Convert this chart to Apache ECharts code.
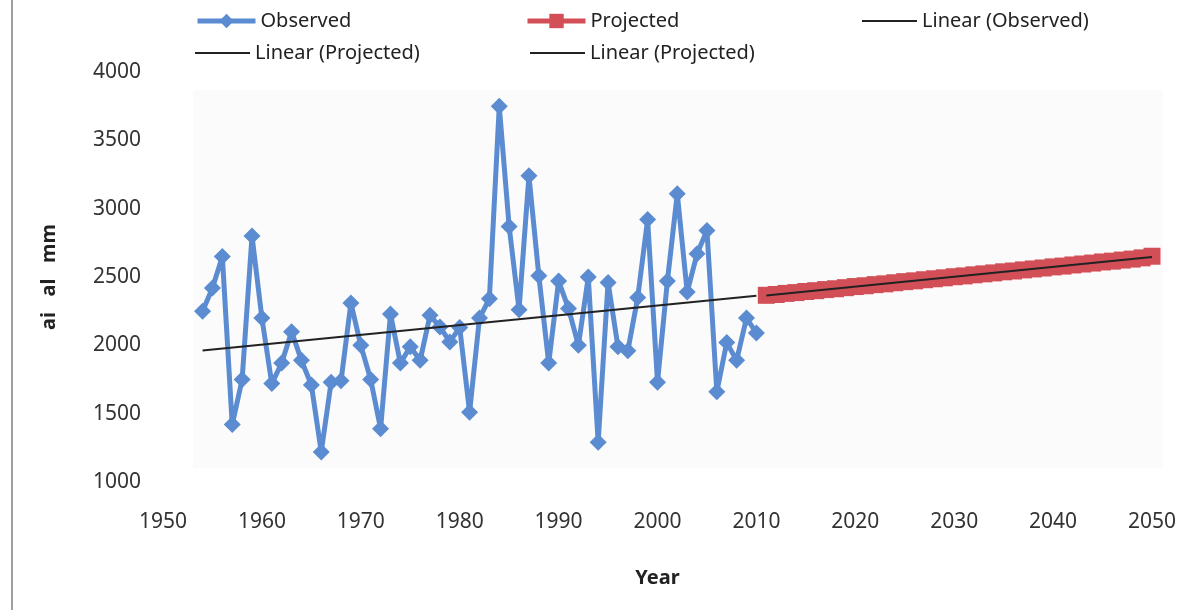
<!DOCTYPE html>
<html>
<head>
<meta charset="utf-8">
<script src="https://cdn.jsdelivr.net/npm/echarts@6/dist/echarts.min.js"></script>
<style>
html,body{margin:0;padding:0;background:#fff;}
#chart{width:1197px;height:610px;}
</style>
</head>
<body>
<div id="chart"></div>
<script>
// Observed years and values (mm)
var observedYears = [1954,1955,1956,1957,1958,1959,1960,1961,1962,1963,1964,1965,1966,1967,1968,1969,1970,1971,1972,1973,1974,1975,1976,1977,1978,1979,1980,1981,1982,1983,1984,1985,1986,1987,1988,1989,1990,1991,1992,1993,1994,1995,1996,1997,1998,1999,2000,2001,2002,2003,2004,2005,2006,2007,2008,2009,2010];
var observedValues = [2250,2420,2650,1420,1750,2800,2200,1720,1870,2100,1890,1710,1220,1730,1740,2310,2000,1750,1390,2230,1870,1990,1890,2220,2135,2025,2130,1510,2200,2340,3750,2870,2260,3240,2510,1870,2470,2270,2000,2500,1290,2460,1990,1960,2350,2920,1730,2470,3110,2390,2670,2840,1660,2020,1890,2200,2090];
// Projected years and values (mm)
var projectedYears = [2011,2012,2013,2014,2015,2016,2017,2018,2019,2020,2021,2022,2023,2024,2025,2026,2027,2028,2029,2030,2031,2032,2033,2034,2035,2036,2037,2038,2039,2040,2041,2042,2043,2044,2045,2046,2047,2048,2049,2050];
var projectedValues = [2366,2372,2380,2386,2394,2400,2408,2414,2422,2430,2436,2444,2450,2458,2466,2472,2480,2487,2494,2502,2508,2516,2523,2530,2538,2544,2552,2559,2566,2574,2580,2588,2595,2602,2610,2616,2624,2631,2640,2652];
var seriesNames = ['Observed','Projected','Linear (Observed)','Linear (Projected)'];
var xTicks = {min:1950, max:2050, step:10};
var yTicks = {min:1000, max:4000, step:500};
var yName = 'ai   al   mm';
var xName = 'Year';

function fit(xs, ys){
  var n = xs.length, sx=0, sy=0, sxx=0, sxy=0;
  for (var i=0;i<n;i++){ sx+=xs[i]; sy+=ys[i]; sxx+=xs[i]*xs[i]; sxy+=xs[i]*ys[i]; }
  var b = (n*sxy - sx*sy)/(n*sxx - sx*sx);
  var a = (sy - b*sx)/n;
  var x0 = xs[0], x1 = xs[n-1];
  return [[x0, a+b*x0],[x1, a+b*x1]];
}
function pairs(xs, ys){ return xs.map(function(x,i){ return [x, ys[i]]; }); }

var FONT = 'Noto Sans';
var chart = echarts.init(document.getElementById('chart'), null, {renderer:'canvas'});
var legendText = {fontFamily: FONT, fontSize: 20, color: '#222'};
function legSym(name, left, top){
  return {data:[name], left:left, top:top, itemWidth:58, itemHeight:18, textStyle:legendText, padding:0, itemGap:0,
          selectedMode:false, lineStyle:{width:5}};
}
function legLine(name, left, top){
  return {data:[{name:name, icon:'rect'}], left:left, top:top, itemWidth:55, itemHeight:2, textStyle:legendText, padding:0, itemGap:0,
          selectedMode:false};
}
chart.setOption({
  animation:false,
  backgroundColor:'#fff',
  graphic:[
    {type:'rect', z:-10, shape:{x:193,y:90,width:970,height:378}, style:{fill:'#fbfbfb'}},
    {type:'line', z:-10, shape:{x1:12,y1:0,x2:12,y2:610}, style:{stroke:'#a0a0a0', lineWidth:2}}
  ],
  legend:[
    legSym(seriesNames[0], 195, 11),
    legSym(seriesNames[1], 525, 11),
    legLine(seriesNames[2], 862, 11),
    legLine(seriesNames[3], 195, 43),
    legLine(seriesNames[3], 530, 43)
  ],
  grid:{left:163, right:45, top:72, bottom:128, containLabel:false},
  xAxis:{
    type:'value', min:xTicks.min, max:xTicks.max, interval:xTicks.step,
    name:xName, nameLocation:'middle', nameGap:86,
    nameTextStyle:{fontFamily:FONT, fontSize:20, fontWeight:'bold', color:'#222'},
    axisLine:{show:false}, axisTick:{show:false}, splitLine:{show:false},
    axisLabel:{fontFamily:FONT, fontSize:21, color:'#333', margin:30, formatter:function(v){return String(v);}}
  },
  yAxis:{
    type:'value', min:yTicks.min, max:yTicks.max, interval:yTicks.step,
    name:yName, nameLocation:'middle', nameGap:104, nameRotate:90,
    nameTextStyle:{fontFamily:FONT, fontSize:20, fontWeight:'bold', color:'#222'},
    axisLine:{show:false}, axisTick:{show:false}, splitLine:{show:false},
    axisLabel:{fontFamily:FONT, fontSize:21, color:'#333', margin:22, formatter:function(v){return String(v);}}
  },
  series:[
    {name:seriesNames[0], type:'line', data:pairs(observedYears, observedValues),
     symbol:'diamond', symbolSize:17, lineStyle:{width:5, color:'#5b8bd0'}, itemStyle:{color:'#5b8bd0'}, z:2},
    {name:seriesNames[1], type:'line', data:pairs(projectedYears, projectedValues),
     symbol:'rect', symbolSize:17, lineStyle:{width:5, color:'#d24f58'}, itemStyle:{color:'#d24f58'}, z:3},
    {name:seriesNames[2], type:'line', data:fit(observedYears, observedValues),
     symbol:'none', lineStyle:{width:2, color:'#222'}, itemStyle:{color:'#222'}, z:4},
    {name:seriesNames[3], type:'line', data:fit(projectedYears, projectedValues),
     symbol:'none', lineStyle:{width:2, color:'#222'}, itemStyle:{color:'#222'}, z:4}
  ]
});
</script>
</body>
</html>
